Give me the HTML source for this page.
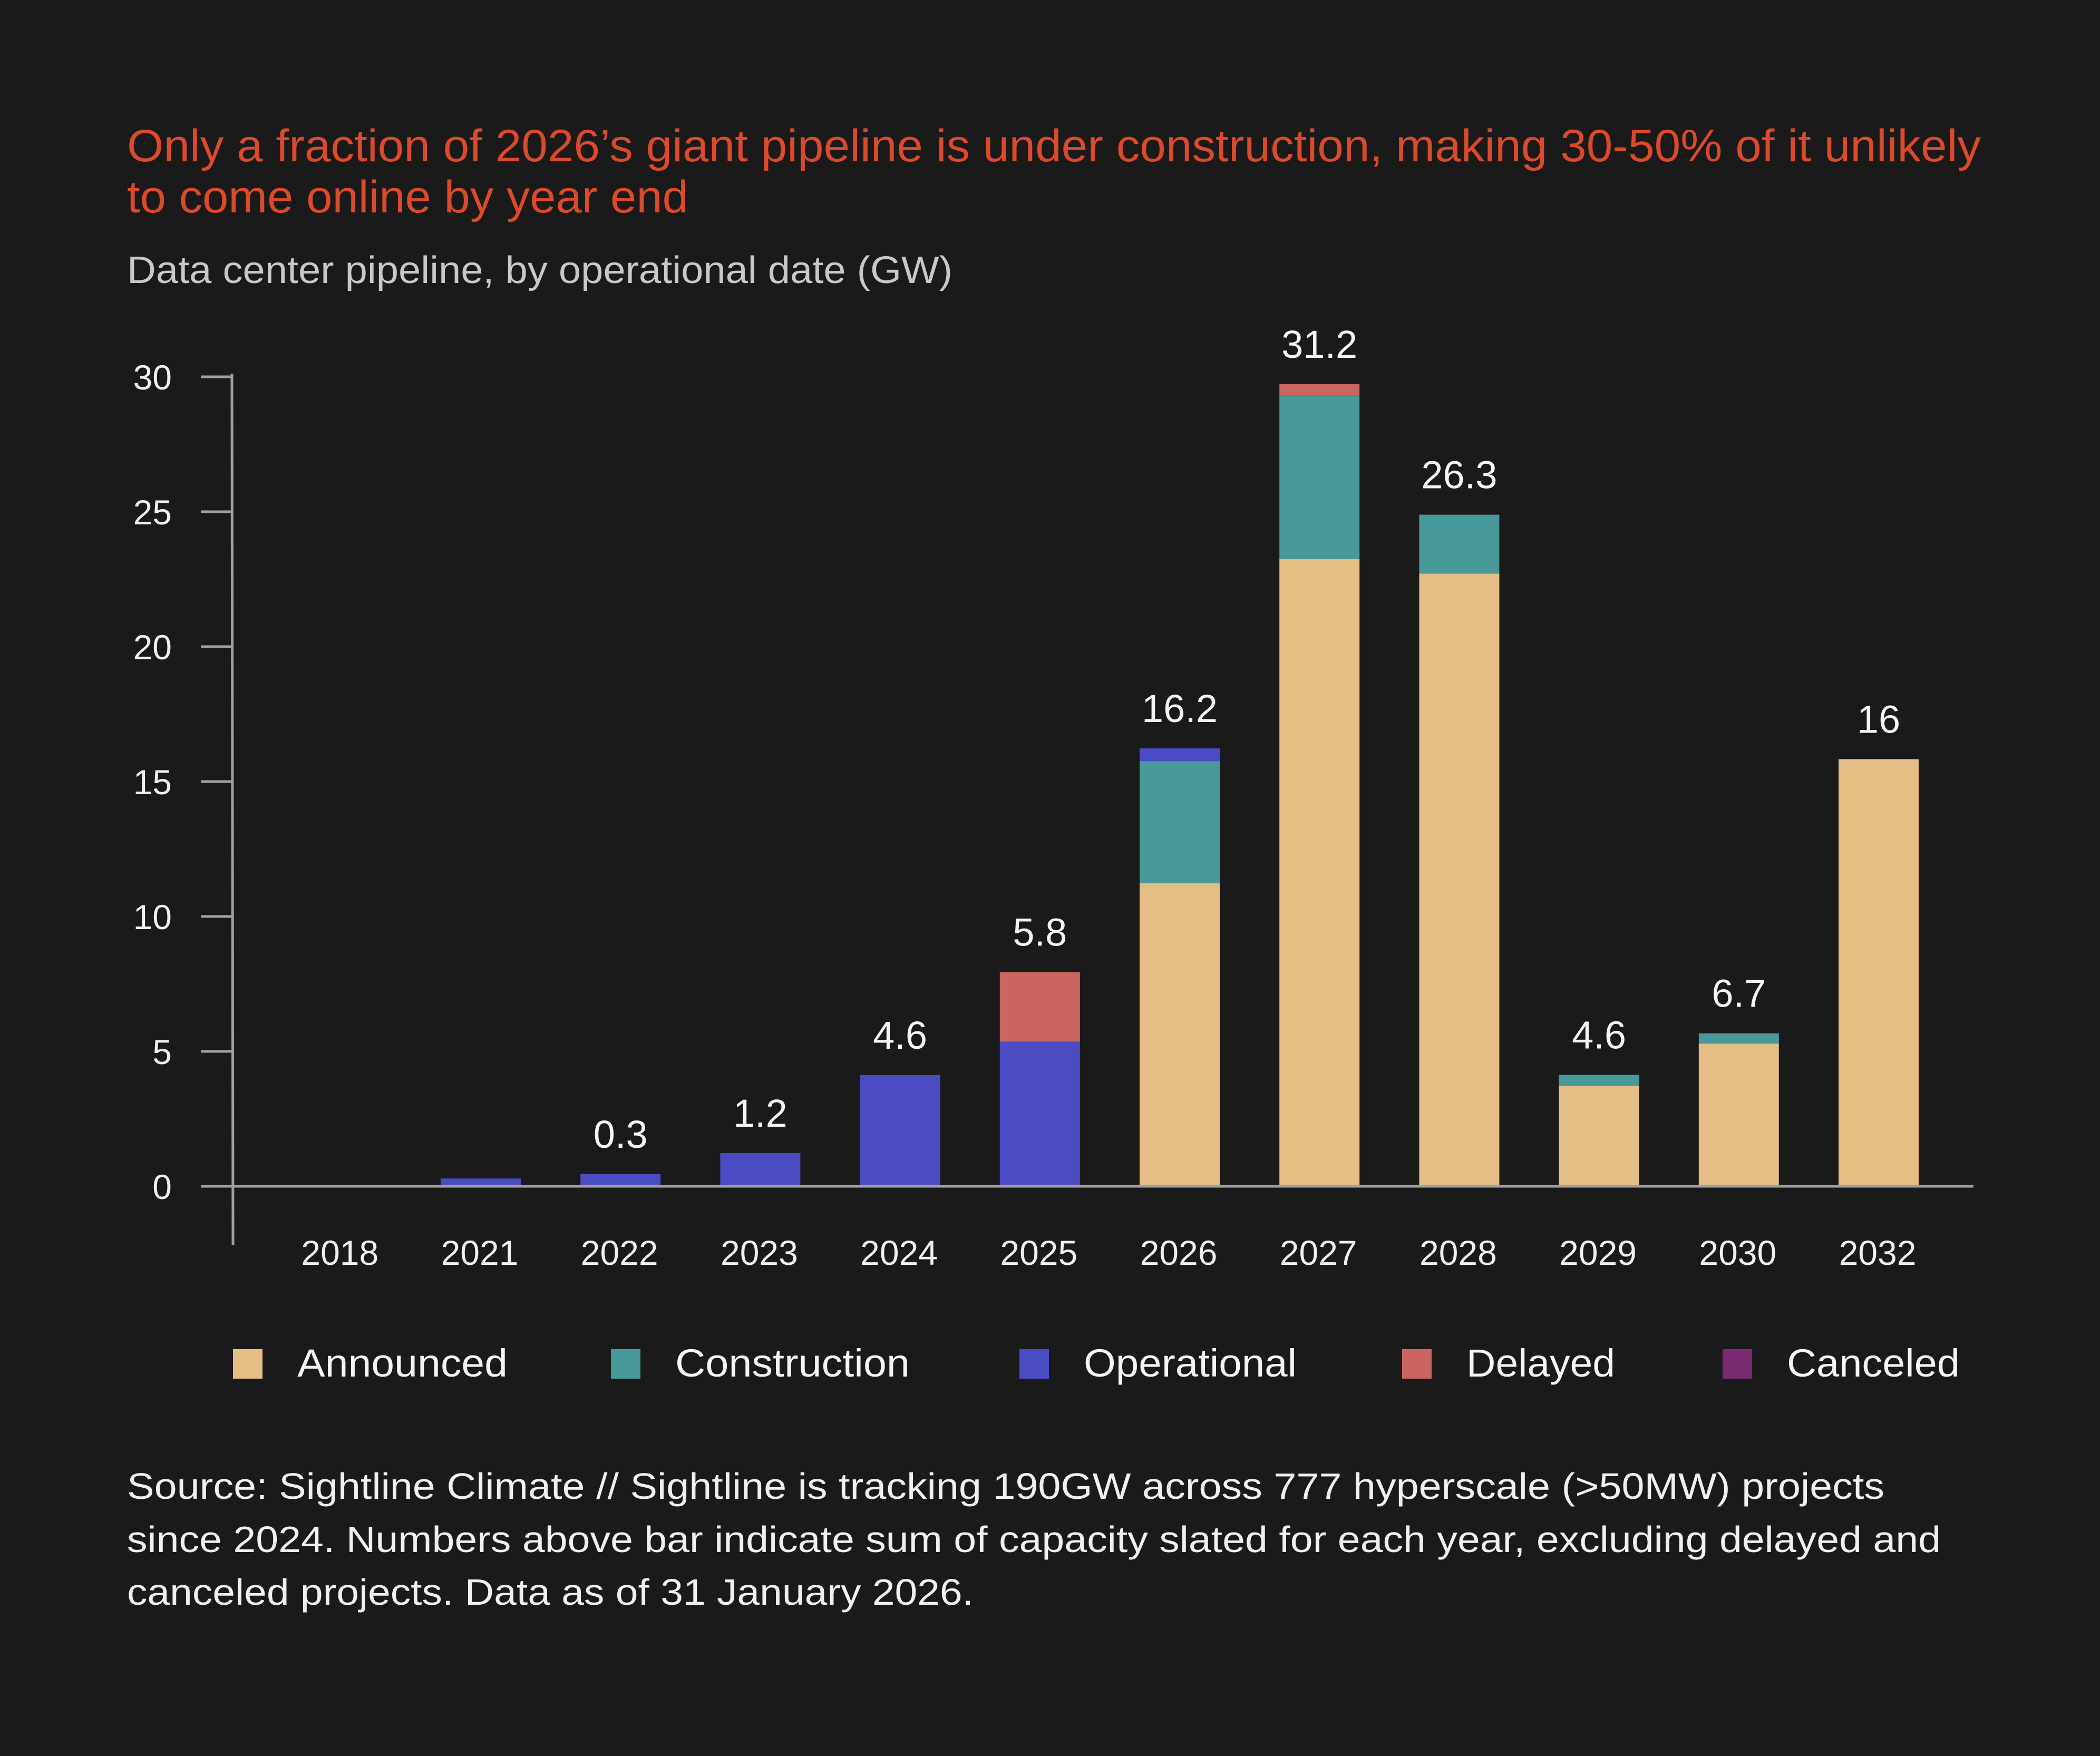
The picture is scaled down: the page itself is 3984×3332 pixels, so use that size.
<!DOCTYPE html>
<html><head><meta charset="utf-8"><style>
html,body{margin:0;padding:0;background:#1a1a1a;}
svg{display:block;font-family:"Liberation Sans",sans-serif;}
</style></head><body>
<svg id="chart" width="3984" height="3332" viewBox="0 0 3984 3332" xmlns="http://www.w3.org/2000/svg">
<rect x="0" y="0" width="3984" height="3332" fill="#1a1a1a"/>
<text fill="#db4a2b" font-size="86" x="241" y="306" textLength="3517" lengthAdjust="spacingAndGlyphs">Only a fraction of 2026’s giant pipeline is under construction, making 30-50% of it unlikely</text>
<text fill="#db4a2b" font-size="86" x="241" y="403" textLength="1065" lengthAdjust="spacingAndGlyphs">to come online by year end</text>
<text fill="#c8c8c8" font-size="72" x="241" y="537" textLength="1566" lengthAdjust="spacingAndGlyphs">Data center pipeline, by operational date (GW)</text>
<g id="plot"></g>
<g id="legend"></g>
<text fill="#f0f0f0" font-size="70" x="241" y="2844" textLength="3334" lengthAdjust="spacingAndGlyphs">Source: Sightline Climate // Sightline is tracking 190GW across 777 hyperscale (&gt;50MW) projects</text>
<text fill="#f0f0f0" font-size="70" x="241" y="2945" textLength="3441" lengthAdjust="spacingAndGlyphs">since 2024. Numbers above bar indicate sum of capacity slated for each year, excluding delayed and</text>
<text fill="#f0f0f0" font-size="70" x="241" y="3045" textLength="1606" lengthAdjust="spacingAndGlyphs">canceled projects. Data as of 31 January 2026.</text>
</svg>
<script>
const categories = ["2018","2021","2022","2023","2024","2025","2026","2027","2028","2029","2030","2032"];
const announced   = [0,0,0,0,0,0,11.23,23.25,22.71,3.72,5.29,15.83];
const construction= [0,0,0,0,0,0,4.53,6.05,2.18,0.41,0.38,0];
const operational = [0,0.29,0.45,1.23,4.12,5.36,0.47,0,0,0,0,0];
const delayed     = [0,0,0,0,0,2.58,0,0.43,0,0,0,0];
const canceled    = [0,0,0,0,0,0,0,0,0,0,0,0];
const totalLabels = ["","","0.3","1.2","4.6","5.8","16.2","31.2","26.3","4.6","6.7","16"];
const yTicks = [0,5,10,15,20,25,30];
const seriesNames = ["Announced","Construction","Operational","Delayed","Canceled"];

const NS="http://www.w3.org/2000/svg";
const colors=["#e4be85","#48999a","#4b4bc4","#cc6560","#7a2a6e"];
const series=[announced,construction,operational,delayed,canceled];
const y0=2251, pxPerUnit=51.2, axisX=440, firstCenter=646.8, band=265.2, barW=152;
const yScale=v=>y0-v*pxPerUnit;
const xScale=i=>firstCenter+i*band;
const plot=document.getElementById('plot');
function mk(tag,attrs){const e=document.createElementNS(NS,tag);for(const k in attrs)e.setAttribute(k,attrs[k]);return e;}

const ya=mk('line',{x1:axisX,y1:709,x2:axisX+2,y2:2362,stroke:'#a0a0a0','stroke-width':5});


plot.appendChild(ya);
yTicks.forEach(t=>{
  const l=mk('line',{x1:381,y1:yScale(t),x2:axisX,y2:yScale(t),stroke:'#a0a0a0','stroke-width':5});
  
  
  plot.appendChild(l);
  const tx=mk('text',{x:326,y:yScale(t)+24,'text-anchor':'end',fill:'#f0f0f0','font-size':66});
  
  
  tx.textContent=t;plot.appendChild(tx);
});
categories.forEach((c,i)=>{
  let base=0;
  series.forEach((s,k)=>{
    const v=s[i]; if(!v) return;
    const r=mk('rect',{x:xScale(i)-barW/2,y:yScale(base+v),width:barW,height:v*pxPerUnit,fill:colors[k]});
    
    
    plot.appendChild(r); base+=v;
  });
  if(totalLabels[i]){
    const t=mk('text',{x:xScale(i),y:yScale(base)-50,'text-anchor':'middle',fill:'#f5f5f5','font-size':74});
    
    
    t.textContent=totalLabels[i];plot.appendChild(t);
  }
  const xl=mk('text',{x:xScale(i)-2,y:2400,'text-anchor':'middle',fill:'#f0f0f0','font-size':66});
  
  
  xl.textContent=c;plot.appendChild(xl);
});
const xa=mk('line',{x1:381,y1:y0,x2:3744,y2:y0,stroke:'#a0a0a0','stroke-width':5});


plot.appendChild(xa);
const lg=document.getElementById('legend');
const sqX=[442,1159,1934,2660,3268], txX=[564,1281,2056,2782,3390], txW=[399,445,404,282,328];
seriesNames.forEach((n,k)=>{
  const r=mk('rect',{x:sqX[k],y:2560,width:56,height:56,fill:colors[k]});
  
  
  lg.appendChild(r);
  const t=mk('text',{x:txX[k],y:2612,fill:'#f5f5f5','font-size':74,textLength:txW[k],lengthAdjust:'spacingAndGlyphs'});
  
  
  t.textContent=n;lg.appendChild(t);
});
</script>
</body></html>
